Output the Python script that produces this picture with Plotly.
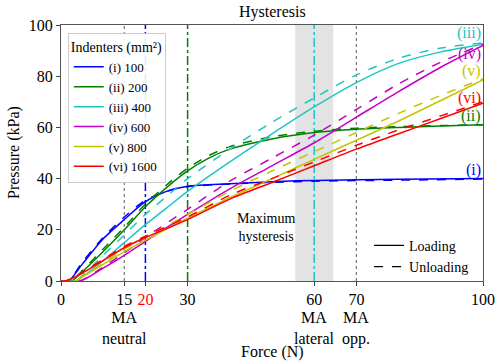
import plotly.graph_objects as go

# ---------------- data ----------------
names = ["(i) 100", "(ii) 200", "(iii) 400", "(iv) 600", "(v) 800", "(vi) 1600"]
short_labels = ["(i)", "(ii)", "(iii)", "(iv)", "(v)", "(vi)"]

blue_F = [0, 1.8, 5, 10, 15, 20, 25, 30, 40, 50, 60, 80, 100]
blue_load = [0, 0, 6.5, 16.5, 24, 31, 35, 37, 38, 38.8, 39.3, 39.7, 40]
blue_unload = [0, 0, 7.2, 17, 25, 31.5, 35, 36.8, 37.9, 38.5, 39, 39.4, 39.8]

green_F = [0, 2.5, 5, 10, 15, 20, 25, 30, 35, 40, 50, 60, 70, 80, 90, 100]
green_load = [0, 0, 3.5, 11.5, 20, 29, 36.5, 43, 48, 51.5, 55.5, 58, 59.3, 60, 60.5, 61]
green_unload = [0, 0, 4, 12.5, 21, 30, 37.5, 44, 49, 52.5, 56.3, 58.5, 59.7, 60.3, 60.7, 61]

cyan_F = [0, 3.5, 5, 10, 15, 20, 25, 30, 40, 50, 60, 70, 80, 90, 100]
cyan_load = [0, 0, 1.5, 8, 15, 22, 28.5, 35, 46.5, 57.5, 68, 77.5, 85, 89.5, 92.5]
cyan_unload = [0, 0, 2, 10, 18, 26, 33, 40, 51.5, 62, 71.5, 80.5, 87, 91, 93]

magenta_F = [0, 4.5, 10, 15, 20, 30, 40, 50, 60, 70, 80, 90, 100]
magenta_load = [0, 0, 5, 10, 15.5, 26, 36, 45, 54, 64, 74, 83.5, 92]
magenta_unload = [0, 0, 5.5, 11, 17, 28, 39, 48, 57, 67, 77, 85.5, 92.5]

yellow_F = [0, 3.5, 5, 10, 15, 20, 30, 40, 50, 60, 70, 80, 90, 100]
yellow_load = [0, 0, 1.5, 6.5, 11.5, 16, 24.5, 32.5, 40, 47.5, 55, 62.5, 70.5, 78.5]
yellow_unload = [0, 0, 1.7, 7, 12.5, 17, 26, 35, 43, 50.5, 58, 65.5, 72.5, 79]

red_F = [0, 1, 5, 10, 15, 20, 30, 40, 50, 60, 70, 80, 90, 100]
red_load = [0, 0, 3, 8, 13, 17, 24, 32, 38.5, 45, 51.5, 57.5, 63.5, 69.5]
red_unload = [0, 0, 3.3, 8.5, 13.5, 17.5, 25, 33.5, 40, 46.5, 53, 59, 64.5, 70]

# reference force levels (N)
ma_dotted = [15, 70]
ma_dashdot = [20, 30, 60]
hysteresis_band = [55.5, 64.5]
ma_label_pos = [15, 60, 70]
ma_label_text = ["MA<br>neutral", "MA<br>lateral", "MA<br>opp."]

x_tickvals = [0, 15, 20, 30, 60, 70, 100]
x_ticktext = ["0", "15", "<span style='color:red'>20</span>", "30", "60", "70", "100"]
y_tickvals = [0, 20, 40, 60, 80, 100]

# ---------------- styling ----------------
colors = ["#0000ff", "#008000", "#1fc4c4", "#c400c4", "#c4c400", "#ff0000"]
dashdot_colors = ["#0000ff", "#008000", "#1fc4c4"]
label_offsets = [3.4, 3.3, 4.5, -3.5, 3.5, 2.0]
FONT = "Liberation Serif"

series = [
    (blue_F, blue_load, blue_unload),
    (green_F, green_load, green_unload),
    (cyan_F, cyan_load, cyan_unload),
    (magenta_F, magenta_load, magenta_unload),
    (yellow_F, yellow_load, yellow_unload),
    (red_F, red_load, red_unload),
]

fig = go.Figure()

for i, (F, load, unload) in enumerate(series):
    fig.add_trace(go.Scatter(
        x=F, y=load, mode="lines", name=names[i], legendgroup=names[i],
        line=dict(color=colors[i], width=1.5, shape="spline", smoothing=0.8),
        legend="legend"))
    fig.add_trace(go.Scatter(
        x=F, y=unload, mode="lines", name=names[i], legendgroup=names[i],
        showlegend=False,
        line=dict(color=colors[i], width=1.5, dash="dash", shape="spline", smoothing=0.8)))
    fig.add_annotation(x=100, y=load[-1] + label_offsets[i], text=short_labels[i],
                       xanchor="right", yanchor="middle", showarrow=False,
                       font=dict(family=FONT, size=16, color=colors[i]))

# Loading / Unloading legend
fig.add_trace(go.Scatter(x=[None], y=[None], mode="lines", name="Loading",
                         line=dict(color="black", width=1.2), legend="legend2"))
fig.add_trace(go.Scatter(x=[None], y=[None], mode="lines", name="Unloading",
                         line=dict(color="black", width=1.2, dash="dash"), legend="legend2"))

# band and vertical lines
fig.add_shape(type="rect", x0=hysteresis_band[0], x1=hysteresis_band[1], y0=0, y1=1,
              xref="x", yref="paper", fillcolor="#e3e3e3", line=dict(width=0), layer="below")
for xv in ma_dotted:
    fig.add_shape(type="line", x0=xv, x1=xv, y0=0, y1=1, xref="x", yref="paper",
                  line=dict(color="#777777", width=1.2, dash="dot"), layer="below")
for xv, c in zip(ma_dashdot, dashdot_colors):
    fig.add_shape(type="line", x0=xv, x1=xv, y0=0, y1=1, xref="x", yref="paper",
                  line=dict(color=c, width=1.5, dash="dashdot"), layer="below")

fig.add_annotation(x=48.5, y=21, text="Maximum<br>hysteresis", showarrow=False,
                   font=dict(family=FONT, size=14, color="black"))

for xv, t in zip(ma_label_pos, ma_label_text):
    fig.add_annotation(x=xv, xref="x", y=0, yref="paper", yanchor="top", yshift=-26,
                       text=t, showarrow=False, font=dict(family=FONT, size=16, color="black"))

fig.add_annotation(x=0.5, xref="paper", y=0, yref="paper", yanchor="middle", yshift=-71,
                   text="Force (N)", showarrow=False, font=dict(family=FONT, size=16))
fig.add_annotation(x=0, xref="paper", y=0.5, yref="paper", xanchor="center", xshift=-47,
                   text="Pressure (kPa)", textangle=-90, showarrow=False,
                   font=dict(family=FONT, size=16))

fig.update_layout(
    width=496, height=364,
    margin=dict(l=61, r=13, t=25, b=83),
    plot_bgcolor="white", paper_bgcolor="white",
    font=dict(family=FONT, size=16, color="black"),
    title=dict(text="Hysteresis", x=0.549, xanchor="center", y=0.985, yanchor="top",
               font=dict(family=FONT, size=16)),
    showlegend=True,
    legend=dict(
        x=0.016, y=0.97, xanchor="left", yanchor="top",
        title=dict(text="Indenters (mm²)", font=dict(family=FONT, size=14)),
        font=dict(family=FONT, size=13),
        bgcolor="rgba(255,255,255,0.9)", bordercolor="#cccccc", borderwidth=1,
        itemwidth=30, tracegroupgap=0),
    legend2=dict(
        x=0.73, y=0.2, xanchor="left", yanchor="top",
        font=dict(family=FONT, size=14),
        bgcolor="rgba(0,0,0,0)", borderwidth=0, itemwidth=30),
    xaxis=dict(
        range=[0, 100], tickvals=x_tickvals, ticktext=x_ticktext, tickangle=0,
        automargin=False,
        ticks="outside", ticklen=4, tickcolor="#444", showgrid=False, zeroline=False,
        showline=True, linecolor="#555555", linewidth=1.2, mirror=True,
        tickfont=dict(family=FONT, size=16)),
    yaxis=dict(
        range=[0, 100], tickvals=y_tickvals, automargin=False,
        ticks="outside", ticklen=4, tickcolor="#444", showgrid=False, zeroline=False,
        showline=True, linecolor="#555555", linewidth=1.2, mirror=True,
        tickfont=dict(family=FONT, size=16)),
)

fig.write_html("out.html", post_script="document.body.style.margin='0';",
               config={"displayModeBar": False})
